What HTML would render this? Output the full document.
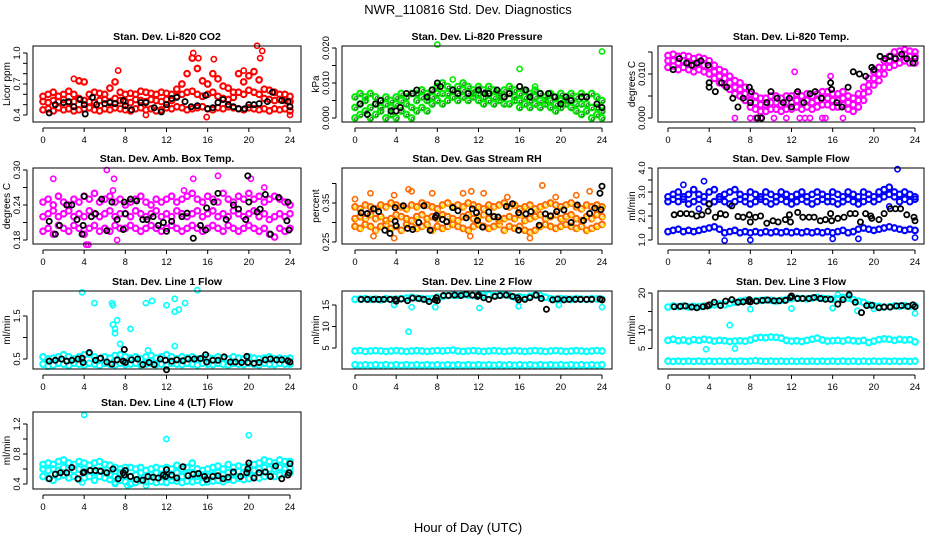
<!DOCTYPE html>
<html><head><meta charset="utf-8">
<style>
html,body{margin:0;padding:0;background:#fff;}
svg{display:block;font-family:"Liberation Sans",Arial,sans-serif;}
</style></head>
<body>
<svg id="chart" width="936" height="540" viewBox="0 0 936 540" xmlns="http://www.w3.org/2000/svg">
<text x="468" y="14" text-anchor="middle" font-size="13">NWR_110816  Std. Dev. Diagnostics</text>
<text x="468" y="532" text-anchor="middle" font-size="13">Hour of Day (UTC)</text>
</svg>
<script>
// ---------- data (x of band series = index * 0.5 h) ----------
const xTicks = [0,4,8,12,16,20,24];
const xTickLabels = ["0","4","8","12","16","20","24"];

const co2Lo  = [0.45,0.46,0.44,0.47,0.45,0.46,0.44,0.45,0.46,0.47,0.45,0.44,0.46,0.45,0.47,0.46,0.45,0.44,0.46,0.47,0.45,0.46,0.44,0.45,0.47,0.46,0.48,0.47,0.45,0.46,0.47,0.48,0.46,0.45,0.47,0.46,0.48,0.47,0.46,0.45,0.47,0.46,0.45,0.46,0.44,0.46,0.45,0.46,0.44];
const co2Mid = [0.53,0.52,0.54,0.53,0.55,0.52,0.53,0.56,0.54,0.53,0.52,0.54,0.55,0.53,0.56,0.54,0.53,0.52,0.55,0.54,0.53,0.55,0.54,0.53,0.55,0.54,0.58,0.6,0.62,0.63,0.6,0.58,0.6,0.62,0.58,0.56,0.55,0.57,0.62,0.6,0.64,0.62,0.6,0.56,0.55,0.54,0.55,0.54,0.53];
const co2Hi  = [0.58,0.6,0.62,0.58,0.6,0.63,0.6,0.73,0.72,0.6,0.62,0.61,0.6,0.66,0.72,0.62,0.6,0.61,0.6,0.63,0.62,0.61,0.6,0.62,0.61,0.6,0.65,0.7,0.8,0.95,0.85,0.73,0.7,0.8,0.75,0.68,0.66,0.62,0.8,0.72,0.78,0.82,0.74,0.65,0.64,0.62,0.6,0.6,0.58];
const co2Out = [[3,0.75],[3.5,0.73],[7.3,0.83],[14.6,1.0],[15.1,0.95],[16.6,0.94],[20.8,1.07],[21.3,1.02],[21.1,0.95],[15.9,0.38],[19.5,0.83],[24,0.4],[10,0.4]];
const co2Blk = [[0.6,0.42],[1.2,0.5],[2,0.52],[2.5,0.53],[3,0.48],[3.6,0.55],[4,0.5],[4.1,0.41],[4.8,0.57],[5.2,0.5],[6,0.51],[6.5,0.52],[7,0.51],[7.8,0.54],[8,0.49],[8.6,0.45],[9.5,0.52],[10,0.52],[10.8,0.47],[11.5,0.43],[12,0.5],[12.5,0.56],[13,0.57],[13.8,0.53],[14.4,0.48],[15,0.49],[15.8,0.59],[16,0.46],[16.5,0.47],[17,0.52],[17.5,0.55],[18,0.5],[18.5,0.48],[19,0.46],[19.6,0.46],[20,0.5],[20.5,0.5],[21,0.51],[21.8,0.53],[22.3,0.62],[23.2,0.54],[23.8,0.53],[24,0.48]];

const presLo  = [0.000,0.001,0.002,0.000,0.001,0.002,0.000,0.001,0.000,0.002,0.001,0.000,0.002,0.003,0.002,0.004,0.005,0.004,0.005,0.006,0.005,0.006,0.005,0.006,0.005,0.004,0.005,0.004,0.005,0.004,0.004,0.005,0.003,0.004,0.003,0.004,0.003,0.004,0.003,0.002,0.003,0.004,0.003,0.002,0.001,0.002,0.000,0.001,0.000];
const presMid = [0.003,0.004,0.005,0.003,0.004,0.003,0.004,0.003,0.004,0.005,0.004,0.003,0.005,0.006,0.005,0.006,0.007,0.007,0.007,0.008,0.007,0.008,0.007,0.007,0.007,0.006,0.007,0.006,0.006,0.006,0.007,0.006,0.005,0.006,0.005,0.006,0.005,0.005,0.005,0.004,0.005,0.005,0.005,0.004,0.004,0.004,0.003,0.003,0.002];
const presHi  = [0.006,0.007,0.006,0.007,0.006,0.005,0.006,0.005,0.006,0.007,0.006,0.007,0.007,0.008,0.007,0.008,0.009,0.010,0.009,0.008,0.009,0.010,0.009,0.008,0.009,0.008,0.009,0.008,0.007,0.008,0.009,0.008,0.007,0.008,0.007,0.008,0.007,0.006,0.007,0.006,0.007,0.006,0.007,0.006,0.007,0.006,0.007,0.006,0.005];
const presOut = [[8,0.021],[24,0.019],[16,0.014],[9.5,0.011],[17.5,0.009]];
const presBlk = [[0.5,0.004],[1.2,0.001],[2,0.004],[2.5,0.005],[3.5,0.002],[4,0.002],[4.4,0.003],[5,0.007],[5.6,0.007],[6,0.008],[7,0.006],[7.5,0.008],[8,0.01],[8.3,0.009],[9.5,0.008],[10,0.007],[11,0.007],[12,0.008],[12.6,0.007],[13,0.007],[13.8,0.008],[14.5,0.006],[15,0.007],[16,0.009],[16.6,0.008],[17,0.006],[18,0.007],[18.8,0.007],[19.4,0.006],[20,0.004],[20.5,0.006],[21,0.005],[22,0.006],[22.5,0.006],[23.5,0.004],[24,0.003]];

const tempLo  = [0.0115,0.0118,0.011,0.0115,0.011,0.0105,0.011,0.0105,0.010,0.009,0.008,0.0075,0.0065,0.0055,0.005,0.004,0.0025,0.002,0.0015,0.0015,0.002,0.002,0.0015,0.002,0.002,0.0025,0.002,0.0025,0.002,0.0025,0.003,0.003,0.0025,0.0025,0.003,0.002,0.0015,0.0025,0.004,0.006,0.0075,0.0085,0.010,0.0115,0.012,0.0125,0.013,0.0125,0.0125];
const tempMid = [0.013,0.013,0.0125,0.013,0.0125,0.012,0.0125,0.012,0.0115,0.0105,0.0095,0.009,0.008,0.007,0.0065,0.0055,0.004,0.0035,0.003,0.003,0.0035,0.0035,0.003,0.0035,0.0035,0.004,0.0035,0.004,0.0035,0.004,0.0045,0.0045,0.004,0.004,0.0045,0.0035,0.003,0.004,0.0055,0.0075,0.009,0.010,0.0115,0.013,0.0135,0.014,0.0145,0.014,0.014];
const tempHi  = [0.0142,0.0145,0.014,0.0142,0.014,0.0135,0.0138,0.0135,0.013,0.012,0.011,0.0105,0.0095,0.0085,0.008,0.007,0.0055,0.005,0.0045,0.0045,0.005,0.005,0.0045,0.005,0.005,0.0055,0.005,0.0055,0.005,0.0055,0.006,0.006,0.0055,0.0055,0.006,0.005,0.0045,0.0055,0.007,0.009,0.0105,0.0115,0.013,0.014,0.015,0.0152,0.0155,0.0152,0.015];
const tempOut = [[6.5,0],[8,0],[8.5,0],[9,0],[10.3,0],[11.5,0],[12.8,0],[13.3,0],[13.8,0],[15,0],[15.3,0],[17,0],[12.3,0.0105],[15.8,0.0095]];
const tempBlk = [[0.5,0.011],[1.1,0.0135],[1.8,0.0125],[2.3,0.012],[2.8,0.0125],[3.2,0.013],[3.9,0.012],[4,0.008],[4,0.007],[4.6,0.006],[5.2,0.008],[5.7,0.007],[6.3,0.0045],[6.8,0.0025],[7.3,0.0045],[7.9,0.007],[8,0.0035],[8.1,0.006],[8.7,0],[9.1,0],[9.6,0.0035],[10,0.006],[10.6,0.0045],[11.2,0.0035],[11.8,0.0045],[12,0.0025],[12.6,0.006],[13.2,0.0035],[13.8,0.0055],[14.3,0.006],[14.9,0.0045],[15.8,0.008],[15.9,0.0065],[16.4,0.0035],[16.9,0.0025],[17.5,0.007],[18,0.0105],[18.6,0.010],[19.2,0.0095],[19.8,0.0115],[20,0.011],[20.6,0.014],[21.1,0.0135],[21.6,0.014],[22.1,0.0135],[22.7,0.0145],[23.2,0.0135],[23.8,0.0125],[24,0.0135]];

const ambLo  = [0.195,0.2,0.19,0.205,0.2,0.195,0.205,0.2,0.19,0.2,0.205,0.195,0.2,0.195,0.205,0.2,0.2,0.205,0.2,0.195,0.2,0.205,0.2,0.195,0.2,0.205,0.2,0.195,0.2,0.205,0.2,0.195,0.2,0.205,0.2,0.195,0.205,0.2,0.195,0.2,0.205,0.2,0.195,0.2,0.19,0.185,0.2,0.195,0.2];
const ambMid = [0.22,0.225,0.23,0.22,0.225,0.23,0.22,0.225,0.22,0.23,0.225,0.22,0.225,0.23,0.22,0.225,0.225,0.22,0.23,0.225,0.22,0.225,0.23,0.22,0.225,0.22,0.23,0.225,0.22,0.225,0.23,0.22,0.225,0.23,0.22,0.225,0.22,0.23,0.225,0.22,0.225,0.23,0.22,0.225,0.215,0.22,0.225,0.22,0.225];
const ambHi  = [0.245,0.25,0.24,0.255,0.245,0.24,0.25,0.245,0.255,0.25,0.26,0.245,0.25,0.255,0.245,0.25,0.24,0.245,0.25,0.255,0.245,0.24,0.25,0.245,0.25,0.255,0.245,0.25,0.255,0.26,0.25,0.245,0.255,0.25,0.245,0.26,0.25,0.245,0.255,0.25,0.26,0.25,0.255,0.245,0.25,0.255,0.25,0.245,0.24];
const ambOut = [[1,0.285],[4.2,0.172],[4.4,0.172],[6.2,0.3],[6.9,0.285],[6.8,0.265],[7.2,0.18],[14.6,0.285],[17,0.29],[20.2,0.285],[13.7,0.265],[21.5,0.27]];
const ambBlk = [[0.6,0.212],[1.2,0.19],[1.6,0.205],[2.3,0.24],[2.8,0.24],[3.3,0.215],[3.8,0.19],[3.9,0.205],[4,0.255],[4.7,0.22],[5.1,0.225],[5.7,0.25],[6.2,0.196],[6.7,0.245],[7.2,0.215],[7.8,0.198],[7.9,0.245],[8,0.225],[8.5,0.25],[9.1,0.247],[9.7,0.215],[10.1,0.215],[10.7,0.22],[11.2,0.205],[11.7,0.21],[12,0.195],[12.5,0.212],[13.5,0.22],[14,0.226],[14.6,0.183],[15.3,0.205],[15.8,0.197],[15.9,0.235],[16.6,0.245],[17,0.26],[17.8,0.215],[18.5,0.24],[19,0.233],[19.7,0.215],[19.9,0.29],[20,0.245],[20.8,0.228],[21.1,0.233],[21.6,0.258],[22.1,0.19],[22.9,0.253],[23.7,0.213],[23.8,0.245],[23.9,0.197]];

const rhLo  = [0.29,0.285,0.295,0.29,0.28,0.29,0.295,0.285,0.29,0.28,0.295,0.29,0.285,0.29,0.295,0.28,0.29,0.285,0.29,0.295,0.29,0.285,0.28,0.29,0.295,0.29,0.285,0.29,0.295,0.28,0.29,0.285,0.29,0.28,0.275,0.28,0.29,0.295,0.29,0.285,0.29,0.295,0.29,0.285,0.29,0.28,0.285,0.29,0.295];
const rhMid = [0.31,0.315,0.31,0.32,0.31,0.315,0.305,0.31,0.32,0.315,0.31,0.305,0.315,0.32,0.31,0.315,0.31,0.32,0.315,0.31,0.305,0.315,0.32,0.31,0.315,0.32,0.31,0.315,0.305,0.31,0.315,0.31,0.32,0.305,0.31,0.315,0.32,0.31,0.315,0.32,0.31,0.315,0.32,0.31,0.305,0.315,0.31,0.32,0.315];
const rhHi  = [0.34,0.335,0.345,0.34,0.335,0.345,0.34,0.35,0.345,0.34,0.335,0.345,0.34,0.35,0.345,0.34,0.335,0.345,0.35,0.34,0.345,0.34,0.35,0.345,0.34,0.335,0.345,0.34,0.345,0.35,0.34,0.345,0.335,0.34,0.345,0.335,0.34,0.345,0.35,0.345,0.34,0.345,0.35,0.34,0.335,0.345,0.34,0.345,0.34];
const rhOut = [[0,0.36],[1.5,0.375],[3.8,0.37],[5.2,0.385],[5.5,0.38],[7.5,0.375],[10.5,0.375],[11.3,0.38],[12.5,0.375],[14.8,0.365],[18.2,0.395],[19.5,0.365],[21.5,0.37],[22.8,0.38],[17,0.26],[11.2,0.265],[1.8,0.265],[3.8,0.26]];
const rhBlk = [[0.6,0.325],[1.2,0.323],[1.8,0.335],[2.3,0.328],[2.9,0.28],[3.4,0.272],[3.9,0.338],[3.9,0.303],[4,0.292],[4.7,0.343],[5.1,0.285],[5.6,0.282],[6.2,0.3],[6.7,0.343],[7.3,0.28],[7.8,0.313],[7.9,0.318],[8.5,0.308],[8.9,0.302],[9.5,0.338],[10,0.33],[10.8,0.312],[11.4,0.335],[11.8,0.325],[11.9,0.305],[12.4,0.288],[13,0.327],[13.5,0.315],[13.9,0.314],[14.7,0.341],[15.3,0.348],[15.9,0.325],[15.9,0.28],[16.6,0.322],[17.1,0.328],[17.9,0.293],[18.5,0.322],[19,0.317],[19.6,0.328],[20.3,0.332],[21,0.3],[21.6,0.345],[22.2,0.305],[22.8,0.323],[23.3,0.337],[23.8,0.375],[23.9,0.333],[24,0.393]];

const sfUp  = [2.8,2.9,3.0,2.8,2.9,3.1,2.9,2.8,3.0,3.1,2.8,2.9,3.0,3.1,2.9,2.8,3.0,2.9,2.8,3.0,2.9,2.8,3.0,2.9,2.8,2.9,3.0,2.8,2.9,3.0,2.9,2.8,3.0,2.9,2.8,3.0,2.9,2.8,3.0,2.9,2.8,3.0,3.1,3.2,3.0,2.9,3.0,2.9,2.8];
const sfUp2 = [2.6,2.7,2.6,2.7,2.5,2.6,2.7,2.6,2.5,2.6,2.7,2.6,2.5,2.6,2.7,2.6,2.5,2.6,2.7,2.6,2.5,2.6,2.7,2.6,2.5,2.6,2.7,2.6,2.5,2.6,2.7,2.6,2.6,2.5,2.6,2.7,2.6,2.5,2.6,2.7,2.6,2.7,2.8,2.9,2.8,2.6,2.7,2.6,2.7];
const sfLow = [1.35,1.4,1.45,1.35,1.4,1.35,1.4,1.45,1.5,1.55,1.45,1.3,1.35,1.4,1.3,1.35,1.3,1.35,1.3,1.35,1.3,1.35,1.3,1.35,1.3,1.35,1.3,1.35,1.3,1.35,1.3,1.35,1.3,1.35,1.4,1.3,1.35,1.45,1.5,1.45,1.4,1.45,1.5,1.55,1.5,1.45,1.4,1.45,1.4];
const sfOut = [[3.5,3.45],[1.5,3.3],[5.5,0.98],[8,1.0],[16,1.05],[18.5,1.05],[22.3,3.95],[24,1.1],[3,2.3],[21.5,2.4]];
const sfBlk = [[0.6,2.05],[1.2,2.1],[1.8,2.1],[2.3,2.08],[2.8,2.0],[3.3,2.05],[3.9,2.2],[4,2.5],[4.6,1.95],[5.1,2.1],[5.6,2.05],[6.2,2.42],[6.8,1.98],[7.3,1.95],[7.9,2.05],[8,1.75],[8.5,1.95],[9,2.0],[9.6,1.7],[10.2,1.8],[10.7,1.75],[11.4,1.85],[11.8,2.05],[11.9,1.75],[12.6,2.15],[13.1,1.95],[13.7,1.95],[14.2,1.95],[14.8,1.8],[15.3,1.85],[15.8,2.1],[15.9,1.8],[16.5,1.9],[17.1,1.95],[17.7,2.1],[18.2,2.1],[18.7,1.75],[19.2,2.1],[19.7,2.0],[19.8,1.9],[20.5,1.85],[21,2.1],[21.6,2.3],[22.1,2.3],[22.6,2.3],[23.2,2.05],[23.9,1.95],[24,1.8]];

const l1Lo  = [0.38,0.33,0.36,0.4,0.38,0.35,0.4,0.38,0.36,0.4,0.38,0.35,0.4,0.38,0.36,0.4,0.37,0.38,0.4,0.36,0.38,0.4,0.37,0.38,0.36,0.4,0.38,0.37,0.4,0.38,0.36,0.4,0.38,0.37,0.4,0.38,0.36,0.4,0.38,0.37,0.4,0.38,0.36,0.4,0.38,0.37,0.4,0.38,0.38];
const l1Hi  = [0.55,0.5,0.52,0.55,0.6,0.55,0.5,0.55,0.6,0.62,0.55,0.5,0.55,0.52,0.58,0.6,0.55,0.52,0.55,0.5,0.55,0.58,0.52,0.55,0.6,0.55,0.5,0.55,0.52,0.55,0.5,0.52,0.55,0.5,0.55,0.52,0.5,0.55,0.52,0.5,0.55,0.52,0.5,0.52,0.55,0.5,0.52,0.5,0.52];
const l1Out = [[3.8,2.05],[5,1.8],[6.7,1.8],[6.8,1.75],[6.8,1.3],[7.2,1.4],[7.0,1.2],[7.5,0.85],[8.5,1.2],[10,1.8],[10.6,1.85],[12,1.75],[12.8,1.9],[12.8,1.6],[13.2,1.65],[13.8,1.8],[15,2.1],[7.0,1.1],[12.8,0.8],[10.2,0.7]];
const l1Blk = [[0.6,0.45],[1.2,0.47],[1.8,0.5],[2.3,0.45],[2.8,0.47],[3.4,0.5],[3.8,0.52],[3.9,0.42],[4.5,0.65],[5.1,0.47],[5.6,0.52],[6.2,0.43],[6.7,0.38],[7.2,0.48],[7.8,0.45],[7.9,0.72],[8,0.42],[8.6,0.48],[9.2,0.5],[9.7,0.37],[10.3,0.42],[10.8,0.37],[11.4,0.5],[11.9,0.47],[12,0.25],[12.5,0.45],[13,0.48],[13.6,0.46],[14.1,0.5],[14.7,0.5],[15.3,0.51],[15.8,0.6],[15.9,0.43],[16.5,0.47],[17,0.47],[17.6,0.55],[18.2,0.43],[18.7,0.43],[19.3,0.42],[19.8,0.56],[19.9,0.42],[20.5,0.4],[21,0.42],[21.6,0.48],[22.1,0.5],[22.7,0.48],[23.2,0.48],[23.8,0.46],[24,0.43]];

const l2Top = [16.3,16.4,16.5,16.3,16.4,16.2,16.5,16.3,16.4,16.5,16.6,16.8,16.6,16.5,16.4,16.5,16.8,17.0,17.2,17.3,17.2,17.4,17.3,17.2,17.5,17.3,17.4,17.2,17.3,17.4,17.2,16.8,16.9,16.7,17.0,17.3,17.2,16.8,16.5,16.3,16.5,16.4,16.3,16.5,16.4,16.3,16.5,16.4,16.3];
const l2Mid = [4.3,4.4,4.2,4.3,4.4,4.3,4.2,4.3,4.4,4.3,4.2,4.3,4.4,4.3,4.2,4.3,4.4,4.3,4.4,4.5,4.3,4.2,4.3,4.4,4.3,4.2,4.3,4.4,4.3,4.2,4.3,4.4,4.3,4.2,4.3,4.4,4.3,4.2,4.3,4.4,4.3,4.2,4.3,4.4,4.3,4.2,4.3,4.4,4.3];
const l2Low = [1.1,1.0,1.1,1.0,1.1,1.0,1.1,1.0,1.1,1.0,1.1,1.0,1.1,1.0,1.1,1.0,1.1,1.0,1.1,1.0,1.1,1.0,1.1,1.0,1.1,1.0,1.1,1.0,1.1,1.0,1.1,1.0,1.1,1.0,1.1,1.0,1.1,1.0,1.1,1.0,1.1,1.0,1.1,1.0,1.1,1.0,1.1,1.0,1.1];
const l2Out = [[3.8,15],[5.2,8.8],[5.5,14.5],[7.8,14.5],[12.1,14.3],[15.9,14.7],[19.8,15],[24,14.5]];
const l2Blk = [[0.6,16.3],[1.2,16.3],[1.8,16.3],[2.3,16.3],[2.8,16.3],[3.4,16.3],[3.9,16.3],[4,15.9],[4.5,16.4],[5.1,16.0],[5.6,16.6],[6.2,16.5],[6.7,16.3],[7.2,15.8],[7.8,16.2],[7.9,16.7],[8,16.0],[8.6,17.2],[9.1,17.2],[9.7,17.3],[10.3,17.2],[10.8,17.5],[11.4,17.3],[11.9,17.0],[12,17.3],[12.5,16.7],[13,16.3],[13.6,17.0],[14.1,17.2],[14.7,17.3],[15.3,17.0],[15.8,16.7],[15.9,16.2],[16.5,16.3],[17,16.7],[17.6,17.3],[18.1,16.5],[18.6,14.0],[19.2,16.2],[19.7,16.4],[20.3,16.2],[20.8,16.3],[21.4,16.3],[21.9,16.3],[22.5,16.3],[23.0,16.3],[23.8,16.4],[24,16.2]];

const l3Top = [16.2,16.5,16.3,16.5,16.2,16.4,16.3,16.5,16.6,16.8,17.0,16.8,17.2,17.5,17.8,18.0,17.8,17.9,18.0,18.1,18.0,17.8,18.0,18.2,18.5,18.6,18.5,18.4,18.6,18.8,18.6,18.5,18.3,18.5,18.8,18.6,18.2,17.8,17.5,16.8,16.6,16.4,16.2,16.3,16.5,16.4,16.6,16.4,16.5];
const l3Mid = [7.2,7.5,7.1,7.3,7.0,7.4,7.2,7.5,7.3,7.0,7.2,7.1,6.9,7.0,7.1,7.0,7.3,7.8,8.0,7.9,8.1,8.0,7.8,7.2,7.0,7.1,6.9,7.2,7.5,7.8,7.3,7.0,7.1,7.2,7.0,7.3,7.1,7.0,7.2,6.6,7.0,7.4,7.6,7.5,7.2,7.5,7.3,7.4,6.8];
const l3Low = [1.6,1.5,1.6,1.5,1.6,1.5,1.6,1.5,1.6,1.5,1.6,1.5,1.6,1.5,1.6,1.5,1.6,1.7,1.6,1.5,1.6,1.5,1.6,1.5,1.6,1.5,1.6,1.5,1.6,1.5,1.6,1.5,1.6,1.5,1.6,1.5,1.6,1.5,1.6,1.5,1.6,1.5,1.6,1.5,1.6,1.5,1.6,1.5,1.6];
const l3Out = [[3.7,4.8],[6,11.3],[6.5,5],[8,15.6],[12,15.8],[16,15.9],[17.6,19.2],[18.4,15.2],[20,15.7],[24,14.5],[16.5,19.5]];
const l3Blk = [[0.6,16.3],[1.2,16.4],[1.7,16.5],[2.3,16.2],[2.8,16.0],[3.4,16.3],[3.8,16.5],[4,16.8],[4.5,17.5],[5.1,16.6],[5.6,17.8],[6.2,18.2],[6.8,17.5],[7.3,17.6],[7.8,17.8],[7.9,18.2],[8,17.6],[8.6,17.8],[9.2,18.0],[9.7,18.1],[10.3,17.9],[10.8,17.9],[11.4,18.0],[11.9,18.8],[12,19.2],[12.6,18.5],[13.1,18.5],[13.7,18.5],[14.2,18.8],[14.8,18.5],[15.3,18.3],[15.8,18.3],[16.5,17.0],[17,18.2],[17.6,19.5],[18.2,17.5],[18.8,14.7],[19.3,16.6],[19.8,16.7],[20.5,16.0],[21,16.2],[21.6,16.2],[22.2,16.5],[22.7,16.6],[23.3,16.4],[23.8,16.8],[24,16.3]];

const l4Lo  = [0.5,0.48,0.45,0.5,0.52,0.48,0.5,0.46,0.48,0.5,0.45,0.5,0.48,0.46,0.42,0.45,0.43,0.4,0.42,0.45,0.43,0.44,0.42,0.43,0.42,0.45,0.44,0.42,0.44,0.43,0.45,0.42,0.43,0.44,0.45,0.43,0.46,0.45,0.48,0.46,0.47,0.5,0.48,0.5,0.52,0.5,0.52,0.54,0.55];
const l4Mid = [0.6,0.58,0.6,0.58,0.62,0.6,0.58,0.6,0.6,0.58,0.56,0.58,0.56,0.52,0.5,0.55,0.52,0.5,0.52,0.55,0.5,0.52,0.55,0.5,0.52,0.5,0.55,0.5,0.52,0.55,0.5,0.52,0.5,0.52,0.55,0.52,0.55,0.54,0.57,0.55,0.57,0.58,0.6,0.62,0.6,0.6,0.62,0.6,0.62];
const l4Hi  = [0.66,0.68,0.66,0.7,0.72,0.68,0.66,0.7,0.68,0.65,0.68,0.7,0.66,0.65,0.62,0.6,0.62,0.62,0.6,0.62,0.58,0.6,0.62,0.6,0.62,0.6,0.65,0.6,0.62,0.68,0.6,0.58,0.6,0.62,0.64,0.6,0.66,0.62,0.64,0.62,0.64,0.66,0.68,0.72,0.7,0.68,0.72,0.7,0.7];
const l4Out = [[4,1.32],[12,1.0],[20,1.05],[3.8,0.42],[7,0.4],[8.2,0.38],[10,0.38]];
const l4Blk = [[0.6,0.47],[1.2,0.53],[1.7,0.55],[2.3,0.55],[2.8,0.62],[3.4,0.47],[3.9,0.55],[4,0.56],[4.6,0.58],[5.1,0.58],[5.6,0.57],[6.2,0.55],[6.8,0.6],[7.3,0.47],[7.8,0.55],[7.9,0.52],[8,0.58],[8.5,0.5],[9.1,0.46],[9.7,0.45],[10.2,0.5],[10.7,0.49],[11.2,0.48],[11.7,0.52],[11.9,0.5],[12,0.59],[12.5,0.52],[13,0.48],[13.6,0.63],[14.1,0.51],[14.6,0.53],[15.1,0.54],[15.7,0.5],[15.9,0.46],[16.5,0.5],[17,0.51],[17.5,0.47],[18,0.49],[18.5,0.56],[19.2,0.5],[19.8,0.55],[19.9,0.6],[20,0.68],[20.5,0.48],[21,0.55],[21.6,0.56],[22.1,0.5],[22.6,0.64],[23.2,0.47],[23.8,0.52],[23.9,0.55],[24,0.67]];

// ---------- rendering ----------
const NS = "http://www.w3.org/2000/svg";
const svg = document.getElementById("chart");
function mk(tag, attrs, parent){
  const e = document.createElementNS(NS, tag);
  for (const k in attrs) e.setAttribute(k, attrs[k]);
  (parent || svg).appendChild(e);
  return e;
}
const cols = [{l:33,r:301,x0:43,x24:290},{l:342,r:612,x0:355,x24:602},{l:658,r:924,x0:668,x24:915}];
const rows = [{t:46,b:122},{t:168,b:244},{t:291,b:369},{t:412,b:489}];

function panel(p){
  const c = cols[p.col], rw = rows[p.row];
  const g = mk("g", {});
  
  
  const xs = h => c.x0 + (c.x24 - c.x0) * h / 24;
  const ys = v => p.p1 + (p.p2 - p.p1) * (v - p.v1) / (p.v2 - p.v1);
  const t = mk("text", {x:(c.l+c.r)/2, y:rw.t-6, "text-anchor":"middle", "font-size":"10.5", "font-weight":"bold"}, g);
  
  
  t.textContent = p.title;
  const yc = (rw.t + rw.b) / 2, yx = c.l - 23;
  const yt = mk("text", {x:yx, y:yc, "text-anchor":"middle", "font-size":"10", transform:`rotate(-90 ${yx} ${yc})`}, g);
  
  
  yt.textContent = p.ylab;
  const clip = "clip-" + p.name;
  const cp = mk("clipPath", {id: clip}, g);
  mk("rect", {x:c.l, y:rw.t-6, width:c.r-c.l, height:rw.b-rw.t+12}, cp);
  const pts = mk("g", {"clip-path":`url(#${clip})`, fill:"none", "stroke-width":"1.6"}, g);
  
  
  p.bands.forEach(arr => {
    arr.forEach((v, i) => {
      const h = i * 24 / (arr.length - 1);
      const ci = mk("circle", {cx:xs(h), cy:ys(v), r:2.8, stroke:p.color, "stroke-width":"2.1"}, pts);
      
      
      if (p.color2) {
        const c2 = mk("circle", {cx:xs(h)+1, cy:ys(v)+1, r:1.4, stroke:p.color2, "stroke-width":"1"}, pts);
        
        
      }
    });
  });
  p.out.forEach(d => {
    const ci = mk("circle", {cx:xs(d[0]), cy:ys(d[1]), r:2.6, stroke:p.color}, pts);
    
    
  });
  p.blk.forEach(d => {
    const ci = mk("circle", {cx:xs(d[0]), cy:ys(d[1]), r:2.6, stroke:"#000", "stroke-width":"1.8"}, pts);
    
    
  });
  const bx = mk("rect", {x:c.l, y:rw.t, width:c.r-c.l, height:rw.b-rw.t, fill:"none", stroke:"#000", "stroke-width":"1"}, g);
  
  
  const xa = mk("g", {}, g);
  
  
  mk("line", {x1:xs(0), x2:xs(24), y1:rw.b+6, y2:rw.b+6, stroke:"#000"}, xa);
  xTicks.forEach((h, i) => {
    mk("line", {x1:xs(h), x2:xs(h), y1:rw.b+6, y2:rw.b+10, stroke:"#000"}, xa);
    const tl = mk("text", {x:xs(h), y:rw.b+21, "text-anchor":"middle", "font-size":"9.5"}, xa);
    
    
    tl.textContent = xTickLabels[i];
  });
  const ya = mk("g", {}, g);
  
  
  const ax = c.l - 6;
  mk("line", {x1:ax, x2:ax, y1:ys(p.yt[0]), y2:ys(p.yt[p.yt.length-1]), stroke:"#000"}, ya);
  p.yt.forEach(v => {
    mk("line", {x1:ax-4, x2:ax, y1:ys(v), y2:ys(v), stroke:"#000"}, ya);
  });
  p.yl.forEach((lab, i) => {
    const v = p.ylv[i], yy = ys(v), lx = ax - 7;
    const tl = mk("text", {x:lx, y:yy, "text-anchor":"middle", "font-size":"9.5", transform:`rotate(-90 ${lx} ${yy})`}, ya);
    
    
    tl.textContent = lab;
  });
}

const panels = [
 {name:"panel-co2", title:"Stan. Dev. Li-820 CO2", ylab:"Licor ppm", col:0,row:0, v1:1.0,p1:53,v2:0.4,p2:115, color:"#ff0000", bands:[co2Lo,co2Mid,co2Hi], out:co2Out, blk:co2Blk, yt:[0.4,0.5,0.6,0.7,0.8,0.9,1.0], ylv:[0.4,0.7,1.0], yl:["0.4","0.7","1.0"]},
 {name:"panel-pressure", title:"Stan. Dev. Li-820 Pressure", ylab:"kPa", col:1,row:0, v1:0,p1:118,v2:0.02,p2:48, color:"#00ee00", color2:"#2a7a2a", bands:[presLo,presMid,presHi], out:presOut, blk:presBlk, yt:[0,0.005,0.01,0.015,0.02], ylv:[0,0.01,0.02], yl:["0.000","0.010","0.020"]},
 {name:"panel-temp", title:"Stan. Dev. Li-820 Temp.", ylab:"degrees C", col:2,row:0, v1:0,p1:118,v2:0.01,p2:74, color:"#ff00ff", bands:[tempLo,tempMid,tempHi], out:tempOut, blk:tempBlk, yt:[0,0.005,0.01,0.015], ylv:[0,0.01], yl:["0.000","0.010"]},
 {name:"panel-amb-box-temp", title:"Stan. Dev. Amb. Box Temp.", ylab:"degrees C", col:0,row:1, v1:0.30,p1:170,v2:0.18,p2:240, color:"#ff00ff", bands:[ambLo,ambMid,ambHi], out:ambOut, blk:ambBlk, yt:[0.18,0.21,0.24,0.27,0.30], ylv:[0.18,0.24,0.30], yl:["0.18","0.24","0.30"]},
 {name:"panel-rh", title:"Stan. Dev. Gas Stream RH", ylab:"percent", col:1,row:1, v1:0.35,p1:203,v2:0.25,p2:242, color:"#ff6a00", color2:"#ffe000", bands:[rhLo,rhMid,rhHi], out:rhOut, blk:rhBlk, yt:[0.25,0.30,0.35,0.40], ylv:[0.25,0.35], yl:["0.25","0.35"]},
 {name:"panel-sample-flow", title:"Stan. Dev. Sample Flow", ylab:"ml/min", col:2,row:1, v1:4,p1:168,v2:1,p2:240, color:"#0000ff", bands:[sfUp,sfUp2,sfLow], out:sfOut, blk:sfBlk, yt:[1,1.5,2,2.5,3,3.5,4], ylv:[1,2,3,4], yl:["1.0","2.0","3.0","4.0"]},
 {name:"panel-line1", title:"Stan. Dev. Line 1 Flow", ylab:"ml/min", col:0,row:2, v1:1.5,p1:316,v2:0.5,p2:359, color:"#00ffff", bands:[l1Lo,l1Hi], out:l1Out, blk:l1Blk, yt:[0.5,1.0,1.5], ylv:[0.5,1.5], yl:["0.5","1.5"]},
 {name:"panel-line2", title:"Stan. Dev. Line 2 Flow", ylab:"ml/min", col:1,row:2, v1:15,p1:305,v2:5,p2:348, color:"#00ffff", bands:[l2Top,l2Mid,l2Low], out:l2Out, blk:l2Blk, yt:[5,10,15], ylv:[5,10,15], yl:["5","10","15"]},
 {name:"panel-line3", title:"Stan. Dev. Line 3 Flow", ylab:"ml/min", col:2,row:2, v1:20,p1:293,v2:10,p2:330, color:"#00ffff", bands:[l3Top,l3Mid,l3Low], out:l3Out, blk:l3Blk, yt:[5,10,15,20], ylv:[5,10,20], yl:["5","10","20"]},
 {name:"panel-line4", title:"Stan. Dev. Line 4 (LT) Flow", ylab:"ml/min", col:0,row:3, v1:1.2,p1:424,v2:0.4,p2:484, color:"#00ffff", bands:[l4Lo,l4Mid,l4Hi], out:l4Out, blk:l4Blk, yt:[0.4,0.6,0.8,1.0,1.2], ylv:[0.4,0.8,1.2], yl:["0.4","0.8","1.2"]}
];
panels.forEach(panel);
</script>
</body></html>
